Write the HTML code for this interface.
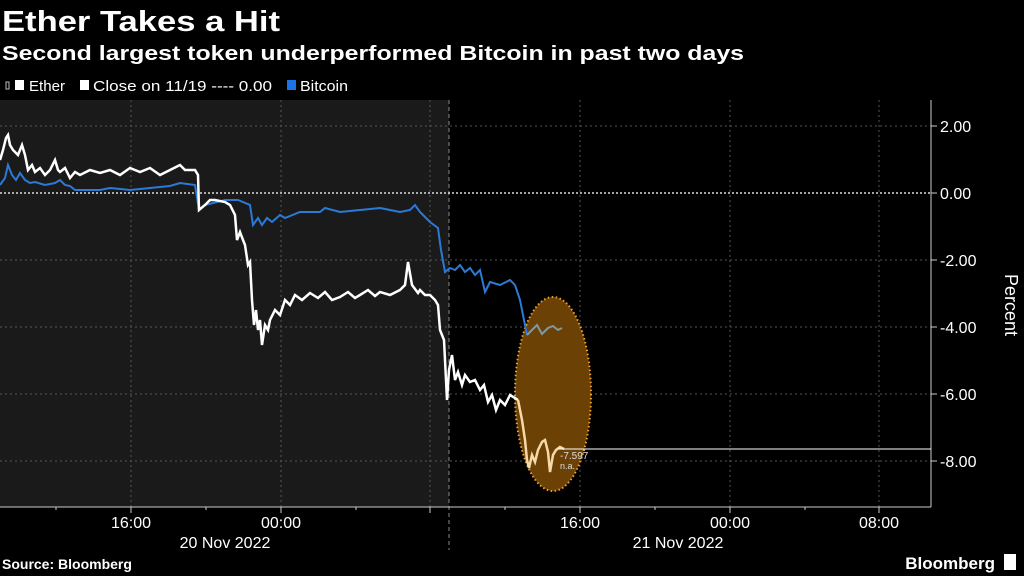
<!DOCTYPE html>
<html><head><meta charset="utf-8"><style>
html,body{margin:0;padding:0;background:#000;}
svg{display:block;font-family:"Liberation Sans",sans-serif;}
</style></head><body>
<svg width="1024" height="576" viewBox="0 0 1024 576" xmlns="http://www.w3.org/2000/svg">
<rect width="1024" height="576" fill="#000"/>
<text x="2" y="31" fill="#fff" font-size="29" font-weight="bold" textLength="278" lengthAdjust="spacingAndGlyphs">Ether Takes a Hit</text>
<text x="2" y="60" fill="#fff" font-size="20" font-weight="bold" textLength="742" lengthAdjust="spacingAndGlyphs">Second largest token underperformed Bitcoin in past two days</text>
<!-- legend -->
<rect x="6" y="82" width="3" height="7" fill="none" stroke="#bbb" stroke-width="1"/>
<rect x="15" y="80" width="9" height="10" fill="#fff"/>
<text x="29" y="91" fill="#fff" font-size="15" textLength="36" lengthAdjust="spacingAndGlyphs">Ether</text>
<rect x="80" y="80" width="9" height="10" fill="#fff"/>
<text x="93" y="91" fill="#fff" font-size="15" textLength="179" lengthAdjust="spacingAndGlyphs">Close on 11/19 ---- 0.00</text>
<rect x="287" y="80" width="9" height="10" fill="#1a73e8"/>
<text x="300" y="91" fill="#fff" font-size="15" textLength="48" lengthAdjust="spacingAndGlyphs">Bitcoin</text>
<!-- plot bg -->
<rect x="0" y="100" width="449" height="407" fill="#1a1a1a"/>
<g stroke="#555" stroke-width="1" stroke-dasharray="2,3">
<line x1="0" y1="126" x2="931" y2="126"/>
<line x1="0" y1="260" x2="931" y2="260"/>
<line x1="0" y1="327" x2="931" y2="327"/>
<line x1="0" y1="394" x2="931" y2="394"/>
<line x1="0" y1="461" x2="931" y2="461"/>
<line x1="131" y1="100" x2="131" y2="507"/>
<line x1="281" y1="100" x2="281" y2="507"/>
<line x1="430" y1="100" x2="430" y2="507"/>
<line x1="580" y1="100" x2="580" y2="507"/>
<line x1="730" y1="100" x2="730" y2="507"/>
<line x1="879" y1="100" x2="879" y2="507"/>
</g>
<line x1="449" y1="100" x2="449" y2="550" stroke="#888" stroke-dasharray="4,3"/>
<line x1="0" y1="193" x2="931" y2="193" stroke="#ddd" stroke-width="1.5" stroke-dasharray="2,2"/>
<!-- axes -->
<line x1="931" y1="100" x2="931" y2="507" stroke="#ccc"/>
<line x1="0" y1="507" x2="931" y2="507" stroke="#ccc"/>
<g stroke="#ccc">
<line x1="931" y1="126" x2="937" y2="126"/><line x1="931" y1="193" x2="937" y2="193"/><line x1="931" y1="260" x2="937" y2="260"/><line x1="931" y1="327" x2="937" y2="327"/><line x1="931" y1="394" x2="937" y2="394"/><line x1="931" y1="461" x2="937" y2="461"/>
<line x1="131" y1="507" x2="131" y2="513"/><line x1="281" y1="507" x2="281" y2="513"/><line x1="430" y1="507" x2="430" y2="513"/><line x1="580" y1="507" x2="580" y2="513"/><line x1="730" y1="507" x2="730" y2="513"/><line x1="879" y1="507" x2="879" y2="513"/>
<line x1="56" y1="507" x2="56" y2="510"/><line x1="206" y1="507" x2="206" y2="510"/><line x1="356" y1="507" x2="356" y2="510"/><line x1="505" y1="507" x2="505" y2="510"/><line x1="655" y1="507" x2="655" y2="510"/><line x1="805" y1="507" x2="805" y2="510"/>
</g>
<g fill="#fff" font-size="16">
<text x="940" y="132">2.00</text>
<text x="940" y="199">0.00</text>
<text x="940" y="266">-2.00</text>
<text x="940" y="333">-4.00</text>
<text x="940" y="400">-6.00</text>
<text x="940" y="467">-8.00</text>
</g>
<text transform="translate(1005,305) rotate(90)" fill="#fff" font-size="18" text-anchor="middle">Percent</text>
<g fill="#fff" font-size="16" text-anchor="middle">
<text x="131" y="528">16:00</text><text x="281" y="528">00:00</text>
<text x="580" y="528">16:00</text><text x="730" y="528">00:00</text><text x="879" y="528">08:00</text>
<text x="225" y="548">20 Nov 2022</text><text x="678" y="548">21 Nov 2022</text>
</g>
<!-- ellipse -->
<ellipse cx="553" cy="394" rx="38" ry="97" fill="#6b4105" stroke="#f0a030" stroke-width="2" stroke-dasharray="1.5,2.5"/>
<!-- bitcoin -->
<polyline fill="none" stroke="#2a7ad6" stroke-width="2" points="0,185 5,178 8,165 12,175 16,180 20,173 25,180 30,183 35,182 45,185 55,183 60,180 65,185 70,186 75,190 100,190 110,188 130,190 150,188 170,186 180,183 195,185 199,210 205,205 225,200 238,200 250,205 253,225 258,218 262,225 267,218 272,222 280,215 285,218 300,212 320,212 325,208 340,212 360,210 380,208 400,212 410,210 415,205 420,212 430,222 438,228 441,250 445,272 450,268 455,270 460,265 465,272 470,268 475,275 480,270 485,292 490,282 500,285 510,280 515,285 520,300 524,320 527,335"/>
<polyline fill="none" stroke="#7f9aa0" stroke-width="2" points="527,335 532,330 537,325 542,334 548,328 553,326 558,330 562,328"/>
<!-- ether -->
<polyline fill="none" stroke="#fff" stroke-width="2.5" points="0,160 3,150 6,138 8,135 10,145 13,150 18,155 22,145 25,155 28,170 32,165 35,172 40,168 45,175 50,170 55,160 58,170 60,172 65,168 70,178 75,172 80,175 90,170 100,173 110,170 120,175 130,168 140,172 150,168 160,175 170,170 180,165 185,170 195,170 198,175 199,210 205,205 210,200 215,200 225,202 230,205 235,215 237,240 240,232 243,240 245,245 248,265 250,262 252,300 254,325 256,310 258,330 260,320 262,345 265,325 268,330 270,320 275,310 280,315 285,300 290,305 295,295 302,300 310,293 318,298 325,292 332,300 340,297 348,292 355,298 360,295 368,290 375,296 380,292 390,295 400,290 405,285 408,262 412,285 418,293 420,290 425,295 430,295 435,300 438,305 440,330 444,340 447,400 449,370 452,355 455,380 458,372 462,385 465,375 470,382 475,380 480,390 484,385 488,402 492,395 496,410 500,400 505,405 510,395 515,398 518,400"/>
<polyline fill="none" stroke="#f6d9a8" stroke-width="2.5" points="518,400 522,420 525,440 527,460 529,468 532,455 535,462 538,450 542,442 545,440 548,452 550,472 553,455 556,450 560,447 564,449"/>
<line x1="558" y1="449" x2="931" y2="449" stroke="#fff" stroke-width="1"/>
<text x="560" y="459" fill="#ddd" font-size="10">-7.597</text>
<text x="560" y="469" fill="#ddd" font-size="9">n.a.</text>
<text x="2" y="569" fill="#fff" font-size="14" font-weight="bold">Source: Bloomberg</text>
<text x="995" y="569" fill="#fff" font-size="17" font-weight="bold" text-anchor="end">Bloomberg</text>
<rect x="1004" y="554" width="12" height="16" fill="#fff"/>
</svg>
</body></html>
